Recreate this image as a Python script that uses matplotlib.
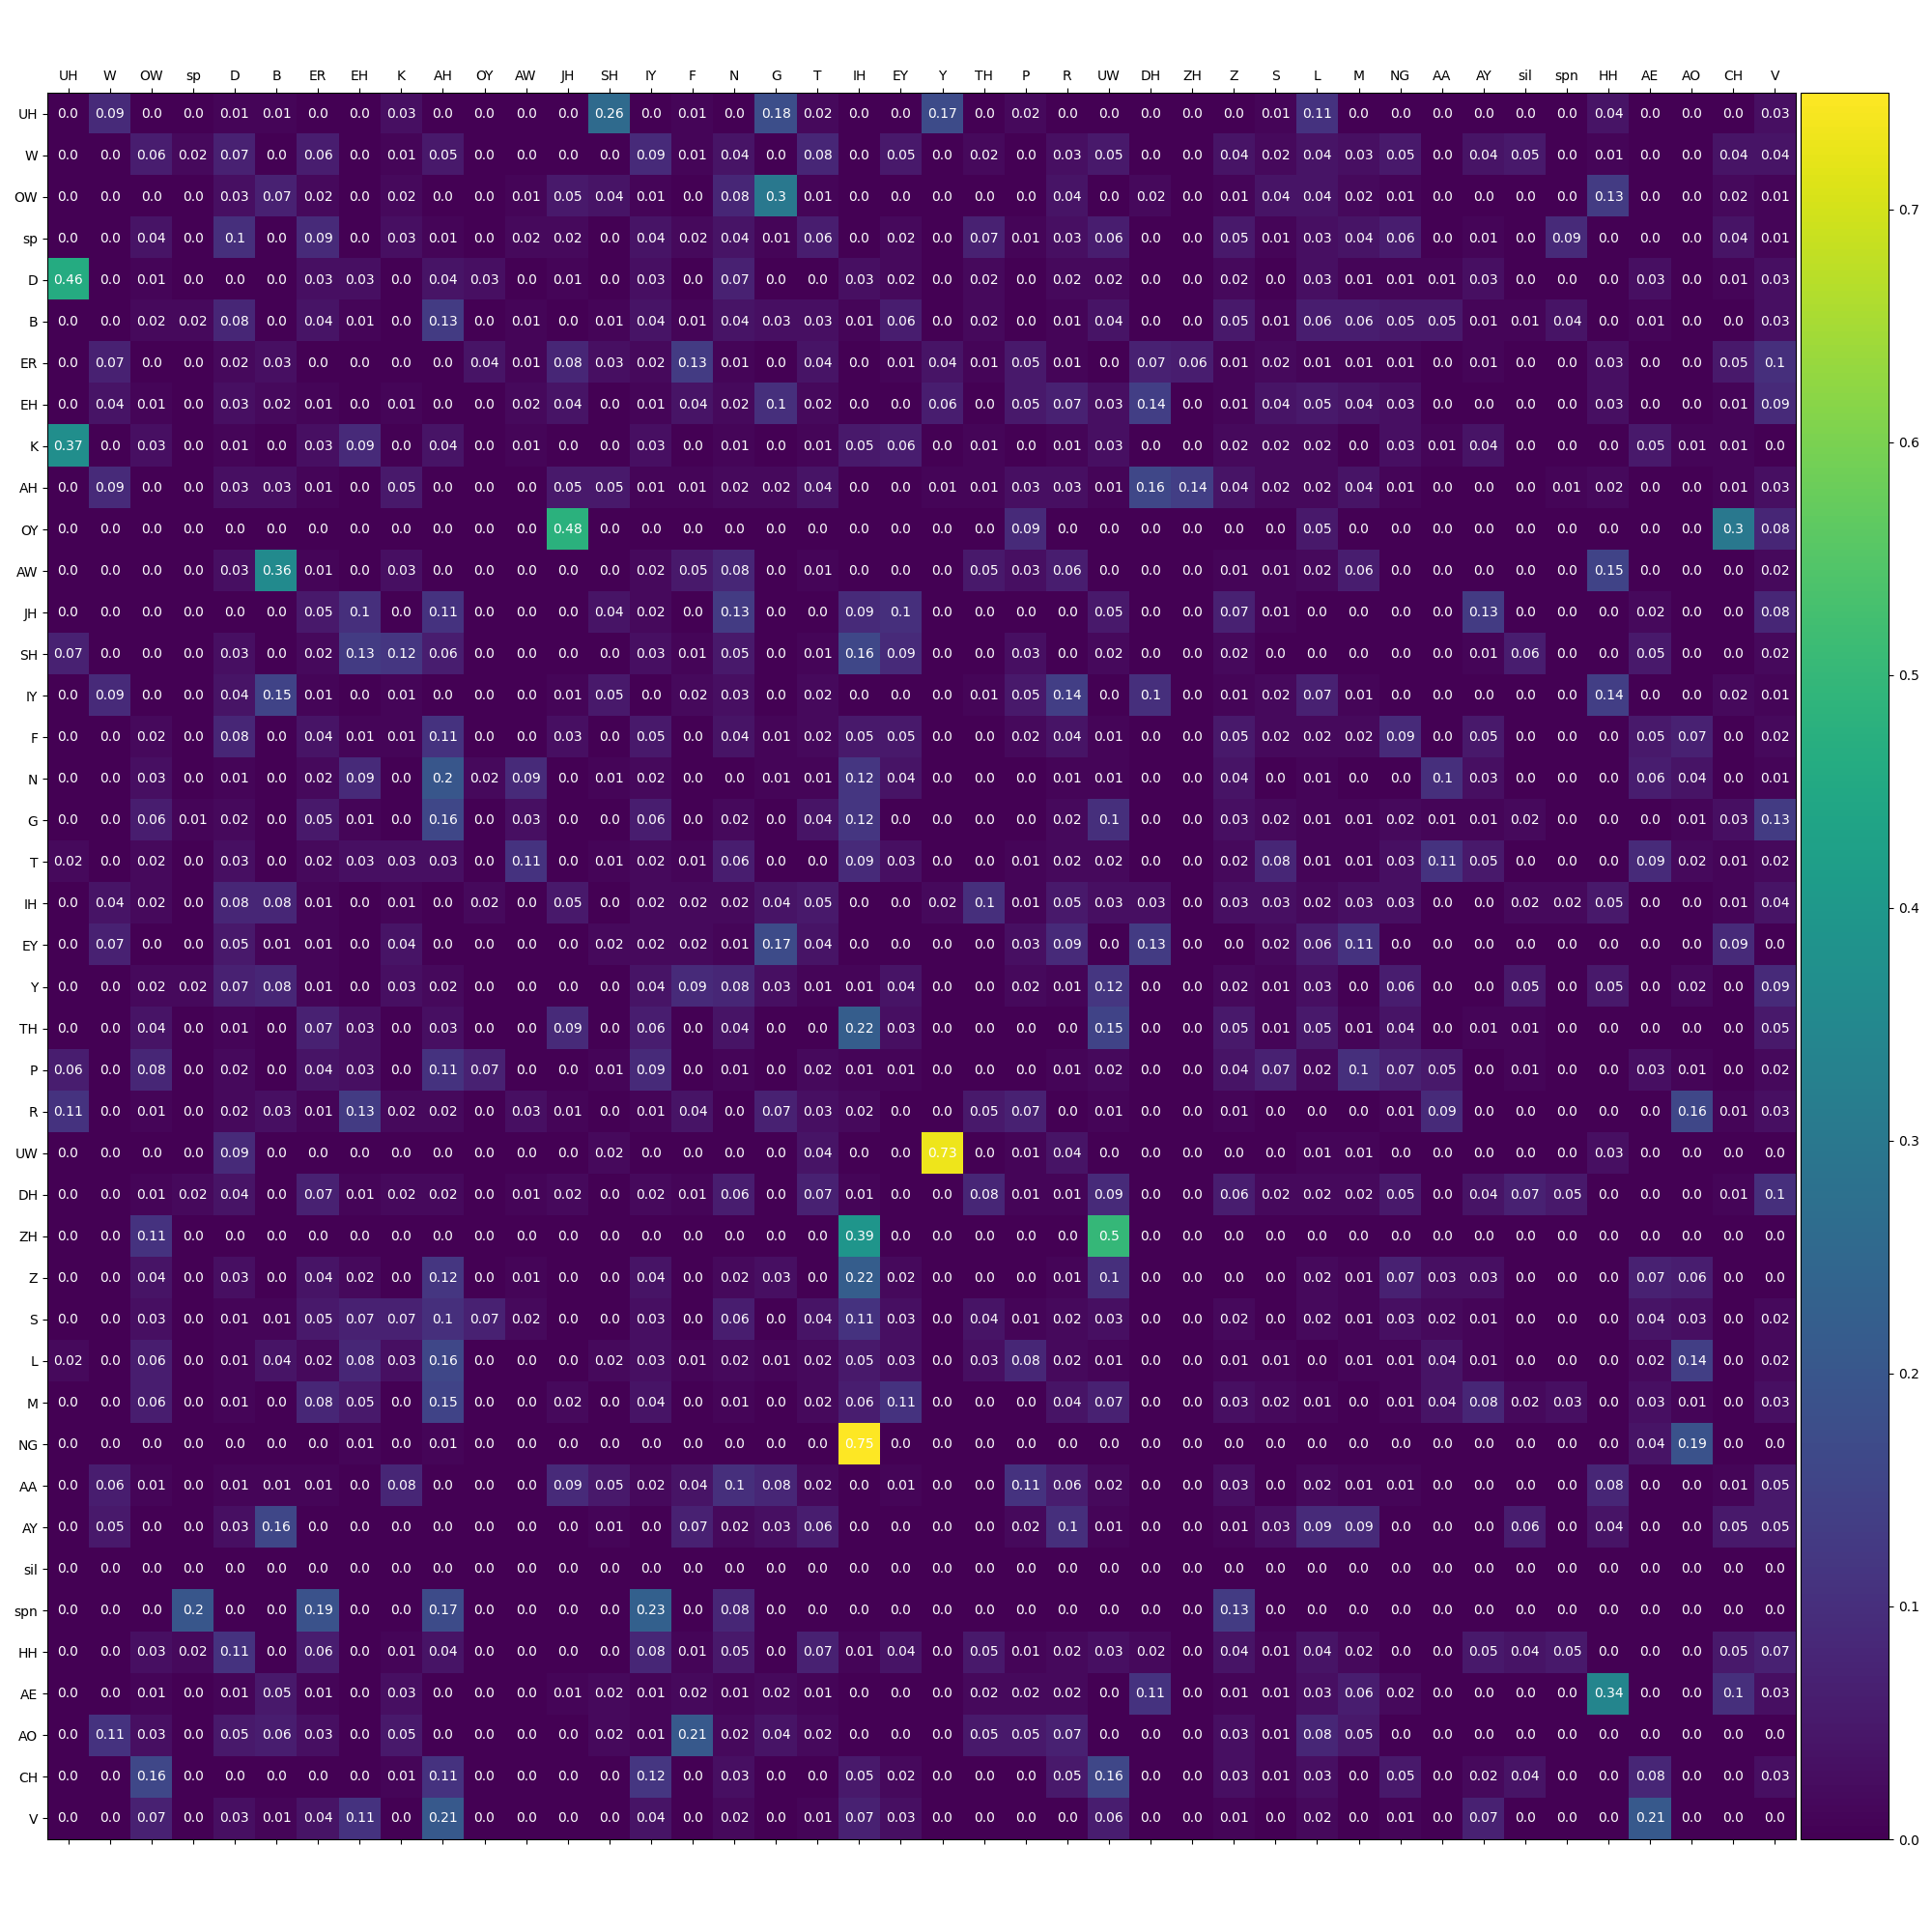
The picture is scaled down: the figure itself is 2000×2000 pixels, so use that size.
import matplotlib
matplotlib.use('Agg')
import matplotlib.pyplot as plt
import numpy as np

phones = ['UH', 'W', 'OW', 'sp', 'D', 'B', 'ER', 'EH', 'K', 'AH', 'OY', 'AW', 'JH', 'SH',
          'IY', 'F', 'N', 'G', 'T', 'IH', 'EY', 'Y', 'TH', 'P', 'R', 'UW', 'DH', 'ZH',
          'Z', 'S', 'L', 'M', 'NG', 'AA', 'AY', 'sil', 'spn', 'HH', 'AE', 'AO', 'CH', 'V']

# one list per true phone (row), columns in the same order as phones
r_UH = [0.0, 0.09, 0.0, 0.0, 0.01, 0.01, 0.0, 0.0, 0.03, 0.0, 0.0, 0.0, 0.0, 0.26,
        0.0, 0.01, 0.0, 0.18, 0.02, 0.0, 0.0, 0.17, 0.0, 0.02, 0.0, 0.0, 0.0, 0.0,
        0.0, 0.01, 0.11, 0.0, 0.0, 0.0, 0.0, 0.0, 0.0, 0.04, 0.0, 0.0, 0.0, 0.03]
r_W = [0.0, 0.0, 0.06, 0.02, 0.07, 0.0, 0.06, 0.0, 0.01, 0.05, 0.0, 0.0, 0.0, 0.0,
       0.09, 0.01, 0.04, 0.0, 0.08, 0.0, 0.05, 0.0, 0.02, 0.0, 0.03, 0.05, 0.0, 0.0,
       0.04, 0.02, 0.04, 0.03, 0.05, 0.0, 0.04, 0.05, 0.0, 0.01, 0.0, 0.0, 0.04, 0.04]
r_OW = [0.0, 0.0, 0.0, 0.0, 0.03, 0.07, 0.02, 0.0, 0.02, 0.0, 0.0, 0.01, 0.05, 0.04,
        0.01, 0.0, 0.08, 0.3, 0.01, 0.0, 0.0, 0.0, 0.0, 0.0, 0.04, 0.0, 0.02, 0.0,
        0.01, 0.04, 0.04, 0.02, 0.01, 0.0, 0.0, 0.0, 0.0, 0.13, 0.0, 0.0, 0.02, 0.01]
r_sp = [0.0, 0.0, 0.04, 0.0, 0.1, 0.0, 0.09, 0.0, 0.03, 0.01, 0.0, 0.02, 0.02, 0.0,
        0.04, 0.02, 0.04, 0.01, 0.06, 0.0, 0.02, 0.0, 0.07, 0.01, 0.03, 0.06, 0.0, 0.0,
        0.05, 0.01, 0.03, 0.04, 0.06, 0.0, 0.01, 0.0, 0.09, 0.0, 0.0, 0.0, 0.04, 0.01]
r_D = [0.46, 0.0, 0.01, 0.0, 0.0, 0.0, 0.03, 0.03, 0.0, 0.04, 0.03, 0.0, 0.01, 0.0,
       0.03, 0.0, 0.07, 0.0, 0.0, 0.03, 0.02, 0.0, 0.02, 0.0, 0.02, 0.02, 0.0, 0.0,
       0.02, 0.0, 0.03, 0.01, 0.01, 0.01, 0.03, 0.0, 0.0, 0.0, 0.03, 0.0, 0.01, 0.03]
r_B = [0.0, 0.0, 0.02, 0.02, 0.08, 0.0, 0.04, 0.01, 0.0, 0.13, 0.0, 0.01, 0.0, 0.01,
       0.04, 0.01, 0.04, 0.03, 0.03, 0.01, 0.06, 0.0, 0.02, 0.0, 0.01, 0.04, 0.0, 0.0,
       0.05, 0.01, 0.06, 0.06, 0.05, 0.05, 0.01, 0.01, 0.04, 0.0, 0.01, 0.0, 0.0, 0.03]
r_ER = [0.0, 0.07, 0.0, 0.0, 0.02, 0.03, 0.0, 0.0, 0.0, 0.0, 0.04, 0.01, 0.08, 0.03,
        0.02, 0.13, 0.01, 0.0, 0.04, 0.0, 0.01, 0.04, 0.01, 0.05, 0.01, 0.0, 0.07, 0.06,
        0.01, 0.02, 0.01, 0.01, 0.01, 0.0, 0.01, 0.0, 0.0, 0.03, 0.0, 0.0, 0.05, 0.1]
r_EH = [0.0, 0.04, 0.01, 0.0, 0.03, 0.02, 0.01, 0.0, 0.01, 0.0, 0.0, 0.02, 0.04, 0.0,
        0.01, 0.04, 0.02, 0.1, 0.02, 0.0, 0.0, 0.06, 0.0, 0.05, 0.07, 0.03, 0.14, 0.0,
        0.01, 0.04, 0.05, 0.04, 0.03, 0.0, 0.0, 0.0, 0.0, 0.03, 0.0, 0.0, 0.01, 0.09]
r_K = [0.37, 0.0, 0.03, 0.0, 0.01, 0.0, 0.03, 0.09, 0.0, 0.04, 0.0, 0.01, 0.0, 0.0,
       0.03, 0.0, 0.01, 0.0, 0.01, 0.05, 0.06, 0.0, 0.01, 0.0, 0.01, 0.03, 0.0, 0.0,
       0.02, 0.02, 0.02, 0.0, 0.03, 0.01, 0.04, 0.0, 0.0, 0.0, 0.05, 0.01, 0.01, 0.0]
r_AH = [0.0, 0.09, 0.0, 0.0, 0.03, 0.03, 0.01, 0.0, 0.05, 0.0, 0.0, 0.0, 0.05, 0.05,
        0.01, 0.01, 0.02, 0.02, 0.04, 0.0, 0.0, 0.01, 0.01, 0.03, 0.03, 0.01, 0.16, 0.14,
        0.04, 0.02, 0.02, 0.04, 0.01, 0.0, 0.0, 0.0, 0.01, 0.02, 0.0, 0.0, 0.01, 0.03]
r_OY = [0.0, 0.0, 0.0, 0.0, 0.0, 0.0, 0.0, 0.0, 0.0, 0.0, 0.0, 0.0, 0.48, 0.0,
        0.0, 0.0, 0.0, 0.0, 0.0, 0.0, 0.0, 0.0, 0.0, 0.09, 0.0, 0.0, 0.0, 0.0,
        0.0, 0.0, 0.05, 0.0, 0.0, 0.0, 0.0, 0.0, 0.0, 0.0, 0.0, 0.0, 0.3, 0.08]
r_AW = [0.0, 0.0, 0.0, 0.0, 0.03, 0.36, 0.01, 0.0, 0.03, 0.0, 0.0, 0.0, 0.0, 0.0,
        0.02, 0.05, 0.08, 0.0, 0.01, 0.0, 0.0, 0.0, 0.05, 0.03, 0.06, 0.0, 0.0, 0.0,
        0.01, 0.01, 0.02, 0.06, 0.0, 0.0, 0.0, 0.0, 0.0, 0.15, 0.0, 0.0, 0.0, 0.02]
r_JH = [0.0, 0.0, 0.0, 0.0, 0.0, 0.0, 0.05, 0.1, 0.0, 0.11, 0.0, 0.0, 0.0, 0.04,
        0.02, 0.0, 0.13, 0.0, 0.0, 0.09, 0.1, 0.0, 0.0, 0.0, 0.0, 0.05, 0.0, 0.0,
        0.07, 0.01, 0.0, 0.0, 0.0, 0.0, 0.13, 0.0, 0.0, 0.0, 0.02, 0.0, 0.0, 0.08]
r_SH = [0.07, 0.0, 0.0, 0.0, 0.03, 0.0, 0.02, 0.13, 0.12, 0.06, 0.0, 0.0, 0.0, 0.0,
        0.03, 0.01, 0.05, 0.0, 0.01, 0.16, 0.09, 0.0, 0.0, 0.03, 0.0, 0.02, 0.0, 0.0,
        0.02, 0.0, 0.0, 0.0, 0.0, 0.0, 0.01, 0.06, 0.0, 0.0, 0.05, 0.0, 0.0, 0.02]
r_IY = [0.0, 0.09, 0.0, 0.0, 0.04, 0.15, 0.01, 0.0, 0.01, 0.0, 0.0, 0.0, 0.01, 0.05,
        0.0, 0.02, 0.03, 0.0, 0.02, 0.0, 0.0, 0.0, 0.01, 0.05, 0.14, 0.0, 0.1, 0.0,
        0.01, 0.02, 0.07, 0.01, 0.0, 0.0, 0.0, 0.0, 0.0, 0.14, 0.0, 0.0, 0.02, 0.01]
r_F = [0.0, 0.0, 0.02, 0.0, 0.08, 0.0, 0.04, 0.01, 0.01, 0.11, 0.0, 0.0, 0.03, 0.0,
       0.05, 0.0, 0.04, 0.01, 0.02, 0.05, 0.05, 0.0, 0.0, 0.02, 0.04, 0.01, 0.0, 0.0,
       0.05, 0.02, 0.02, 0.02, 0.09, 0.0, 0.05, 0.0, 0.0, 0.0, 0.05, 0.07, 0.0, 0.02]
r_N = [0.0, 0.0, 0.03, 0.0, 0.01, 0.0, 0.02, 0.09, 0.0, 0.2, 0.02, 0.09, 0.0, 0.01,
       0.02, 0.0, 0.0, 0.01, 0.01, 0.12, 0.04, 0.0, 0.0, 0.0, 0.01, 0.01, 0.0, 0.0,
       0.04, 0.0, 0.01, 0.0, 0.0, 0.1, 0.03, 0.0, 0.0, 0.0, 0.06, 0.04, 0.0, 0.01]
r_G = [0.0, 0.0, 0.06, 0.01, 0.02, 0.0, 0.05, 0.01, 0.0, 0.16, 0.0, 0.03, 0.0, 0.0,
       0.06, 0.0, 0.02, 0.0, 0.04, 0.12, 0.0, 0.0, 0.0, 0.0, 0.02, 0.1, 0.0, 0.0,
       0.03, 0.02, 0.01, 0.01, 0.02, 0.01, 0.01, 0.02, 0.0, 0.0, 0.0, 0.01, 0.03, 0.13]
r_T = [0.02, 0.0, 0.02, 0.0, 0.03, 0.0, 0.02, 0.03, 0.03, 0.03, 0.0, 0.11, 0.0, 0.01,
       0.02, 0.01, 0.06, 0.0, 0.0, 0.09, 0.03, 0.0, 0.0, 0.01, 0.02, 0.02, 0.0, 0.0,
       0.02, 0.08, 0.01, 0.01, 0.03, 0.11, 0.05, 0.0, 0.0, 0.0, 0.09, 0.02, 0.01, 0.02]
r_IH = [0.0, 0.04, 0.02, 0.0, 0.08, 0.08, 0.01, 0.0, 0.01, 0.0, 0.02, 0.0, 0.05, 0.0,
        0.02, 0.02, 0.02, 0.04, 0.05, 0.0, 0.0, 0.02, 0.1, 0.01, 0.05, 0.03, 0.03, 0.0,
        0.03, 0.03, 0.02, 0.03, 0.03, 0.0, 0.0, 0.02, 0.02, 0.05, 0.0, 0.0, 0.01, 0.04]
r_EY = [0.0, 0.07, 0.0, 0.0, 0.05, 0.01, 0.01, 0.0, 0.04, 0.0, 0.0, 0.0, 0.0, 0.02,
        0.02, 0.02, 0.01, 0.17, 0.04, 0.0, 0.0, 0.0, 0.0, 0.03, 0.09, 0.0, 0.13, 0.0,
        0.0, 0.02, 0.06, 0.11, 0.0, 0.0, 0.0, 0.0, 0.0, 0.0, 0.0, 0.0, 0.09, 0.0]
r_Y = [0.0, 0.0, 0.02, 0.02, 0.07, 0.08, 0.01, 0.0, 0.03, 0.02, 0.0, 0.0, 0.0, 0.0,
       0.04, 0.09, 0.08, 0.03, 0.01, 0.01, 0.04, 0.0, 0.0, 0.02, 0.01, 0.12, 0.0, 0.0,
       0.02, 0.01, 0.03, 0.0, 0.06, 0.0, 0.0, 0.05, 0.0, 0.05, 0.0, 0.02, 0.0, 0.09]
r_TH = [0.0, 0.0, 0.04, 0.0, 0.01, 0.0, 0.07, 0.03, 0.0, 0.03, 0.0, 0.0, 0.09, 0.0,
        0.06, 0.0, 0.04, 0.0, 0.0, 0.22, 0.03, 0.0, 0.0, 0.0, 0.0, 0.15, 0.0, 0.0,
        0.05, 0.01, 0.05, 0.01, 0.04, 0.0, 0.01, 0.01, 0.0, 0.0, 0.0, 0.0, 0.0, 0.05]
r_P = [0.06, 0.0, 0.08, 0.0, 0.02, 0.0, 0.04, 0.03, 0.0, 0.11, 0.07, 0.0, 0.0, 0.01,
       0.09, 0.0, 0.01, 0.0, 0.02, 0.01, 0.01, 0.0, 0.0, 0.0, 0.01, 0.02, 0.0, 0.0,
       0.04, 0.07, 0.02, 0.1, 0.07, 0.05, 0.0, 0.01, 0.0, 0.0, 0.03, 0.01, 0.0, 0.02]
r_R = [0.11, 0.0, 0.01, 0.0, 0.02, 0.03, 0.01, 0.13, 0.02, 0.02, 0.0, 0.03, 0.01, 0.0,
       0.01, 0.04, 0.0, 0.07, 0.03, 0.02, 0.0, 0.0, 0.05, 0.07, 0.0, 0.01, 0.0, 0.0,
       0.01, 0.0, 0.0, 0.0, 0.01, 0.09, 0.0, 0.0, 0.0, 0.0, 0.0, 0.16, 0.01, 0.03]
r_UW = [0.0, 0.0, 0.0, 0.0, 0.09, 0.0, 0.0, 0.0, 0.0, 0.0, 0.0, 0.0, 0.0, 0.02,
        0.0, 0.0, 0.0, 0.0, 0.04, 0.0, 0.0, 0.73, 0.0, 0.01, 0.04, 0.0, 0.0, 0.0,
        0.0, 0.0, 0.01, 0.01, 0.0, 0.0, 0.0, 0.0, 0.0, 0.03, 0.0, 0.0, 0.0, 0.0]
r_DH = [0.0, 0.0, 0.01, 0.02, 0.04, 0.0, 0.07, 0.01, 0.02, 0.02, 0.0, 0.01, 0.02, 0.0,
        0.02, 0.01, 0.06, 0.0, 0.07, 0.01, 0.0, 0.0, 0.08, 0.01, 0.01, 0.09, 0.0, 0.0,
        0.06, 0.02, 0.02, 0.02, 0.05, 0.0, 0.04, 0.07, 0.05, 0.0, 0.0, 0.0, 0.01, 0.1]
r_ZH = [0.0, 0.0, 0.11, 0.0, 0.0, 0.0, 0.0, 0.0, 0.0, 0.0, 0.0, 0.0, 0.0, 0.0,
        0.0, 0.0, 0.0, 0.0, 0.0, 0.39, 0.0, 0.0, 0.0, 0.0, 0.0, 0.5, 0.0, 0.0,
        0.0, 0.0, 0.0, 0.0, 0.0, 0.0, 0.0, 0.0, 0.0, 0.0, 0.0, 0.0, 0.0, 0.0]
r_Z = [0.0, 0.0, 0.04, 0.0, 0.03, 0.0, 0.04, 0.02, 0.0, 0.12, 0.0, 0.01, 0.0, 0.0,
       0.04, 0.0, 0.02, 0.03, 0.0, 0.22, 0.02, 0.0, 0.0, 0.0, 0.01, 0.1, 0.0, 0.0,
       0.0, 0.0, 0.02, 0.01, 0.07, 0.03, 0.03, 0.0, 0.0, 0.0, 0.07, 0.06, 0.0, 0.0]
r_S = [0.0, 0.0, 0.03, 0.0, 0.01, 0.01, 0.05, 0.07, 0.07, 0.1, 0.07, 0.02, 0.0, 0.0,
       0.03, 0.0, 0.06, 0.0, 0.04, 0.11, 0.03, 0.0, 0.04, 0.01, 0.02, 0.03, 0.0, 0.0,
       0.02, 0.0, 0.02, 0.01, 0.03, 0.02, 0.01, 0.0, 0.0, 0.0, 0.04, 0.03, 0.0, 0.02]
r_L = [0.02, 0.0, 0.06, 0.0, 0.01, 0.04, 0.02, 0.08, 0.03, 0.16, 0.0, 0.0, 0.0, 0.02,
       0.03, 0.01, 0.02, 0.01, 0.02, 0.05, 0.03, 0.0, 0.03, 0.08, 0.02, 0.01, 0.0, 0.0,
       0.01, 0.01, 0.0, 0.01, 0.01, 0.04, 0.01, 0.0, 0.0, 0.0, 0.02, 0.14, 0.0, 0.02]
r_M = [0.0, 0.0, 0.06, 0.0, 0.01, 0.0, 0.08, 0.05, 0.0, 0.15, 0.0, 0.0, 0.02, 0.0,
       0.04, 0.0, 0.01, 0.0, 0.02, 0.06, 0.11, 0.0, 0.0, 0.0, 0.04, 0.07, 0.0, 0.0,
       0.03, 0.02, 0.01, 0.0, 0.01, 0.04, 0.08, 0.02, 0.03, 0.0, 0.03, 0.01, 0.0, 0.03]
r_NG = [0.0, 0.0, 0.0, 0.0, 0.0, 0.0, 0.0, 0.01, 0.0, 0.01, 0.0, 0.0, 0.0, 0.0,
        0.0, 0.0, 0.0, 0.0, 0.0, 0.75, 0.0, 0.0, 0.0, 0.0, 0.0, 0.0, 0.0, 0.0,
        0.0, 0.0, 0.0, 0.0, 0.0, 0.0, 0.0, 0.0, 0.0, 0.0, 0.04, 0.19, 0.0, 0.0]
r_AA = [0.0, 0.06, 0.01, 0.0, 0.01, 0.01, 0.01, 0.0, 0.08, 0.0, 0.0, 0.0, 0.09, 0.05,
        0.02, 0.04, 0.1, 0.08, 0.02, 0.0, 0.01, 0.0, 0.0, 0.11, 0.06, 0.02, 0.0, 0.0,
        0.03, 0.0, 0.02, 0.01, 0.01, 0.0, 0.0, 0.0, 0.0, 0.08, 0.0, 0.0, 0.01, 0.05]
r_AY = [0.0, 0.05, 0.0, 0.0, 0.03, 0.16, 0.0, 0.0, 0.0, 0.0, 0.0, 0.0, 0.0, 0.01,
        0.0, 0.07, 0.02, 0.03, 0.06, 0.0, 0.0, 0.0, 0.0, 0.02, 0.1, 0.01, 0.0, 0.0,
        0.01, 0.03, 0.09, 0.09, 0.0, 0.0, 0.0, 0.06, 0.0, 0.04, 0.0, 0.0, 0.05, 0.05]
r_sil = [0.0] * 42
r_spn = [0.0, 0.0, 0.0, 0.2, 0.0, 0.0, 0.19, 0.0, 0.0, 0.17, 0.0, 0.0, 0.0, 0.0,
         0.23, 0.0, 0.08, 0.0, 0.0, 0.0, 0.0, 0.0, 0.0, 0.0, 0.0, 0.0, 0.0, 0.0,
         0.13, 0.0, 0.0, 0.0, 0.0, 0.0, 0.0, 0.0, 0.0, 0.0, 0.0, 0.0, 0.0, 0.0]
r_HH = [0.0, 0.0, 0.03, 0.02, 0.11, 0.0, 0.06, 0.0, 0.01, 0.04, 0.0, 0.0, 0.0, 0.0,
        0.08, 0.01, 0.05, 0.0, 0.07, 0.01, 0.04, 0.0, 0.05, 0.01, 0.02, 0.03, 0.02, 0.0,
        0.04, 0.01, 0.04, 0.02, 0.0, 0.0, 0.05, 0.04, 0.05, 0.0, 0.0, 0.0, 0.05, 0.07]
r_AE = [0.0, 0.0, 0.01, 0.0, 0.01, 0.05, 0.01, 0.0, 0.03, 0.0, 0.0, 0.0, 0.01, 0.02,
        0.01, 0.02, 0.01, 0.02, 0.01, 0.0, 0.0, 0.0, 0.02, 0.02, 0.02, 0.0, 0.11, 0.0,
        0.01, 0.01, 0.03, 0.06, 0.02, 0.0, 0.0, 0.0, 0.0, 0.34, 0.0, 0.0, 0.1, 0.03]
r_AO = [0.0, 0.11, 0.03, 0.0, 0.05, 0.06, 0.03, 0.0, 0.05, 0.0, 0.0, 0.0, 0.0, 0.02,
        0.01, 0.21, 0.02, 0.04, 0.02, 0.0, 0.0, 0.0, 0.05, 0.05, 0.07, 0.0, 0.0, 0.0,
        0.03, 0.01, 0.08, 0.05, 0.0, 0.0, 0.0, 0.0, 0.0, 0.0, 0.0, 0.0, 0.0, 0.0]
r_CH = [0.0, 0.0, 0.16, 0.0, 0.0, 0.0, 0.0, 0.0, 0.01, 0.11, 0.0, 0.0, 0.0, 0.0,
        0.12, 0.0, 0.03, 0.0, 0.0, 0.05, 0.02, 0.0, 0.0, 0.0, 0.05, 0.16, 0.0, 0.0,
        0.03, 0.01, 0.03, 0.0, 0.05, 0.0, 0.02, 0.04, 0.0, 0.0, 0.08, 0.0, 0.0, 0.03]
r_V = [0.0, 0.0, 0.07, 0.0, 0.03, 0.01, 0.04, 0.11, 0.0, 0.21, 0.0, 0.0, 0.0, 0.0,
       0.04, 0.0, 0.02, 0.0, 0.01, 0.07, 0.03, 0.0, 0.0, 0.0, 0.0, 0.06, 0.0, 0.0,
       0.01, 0.0, 0.02, 0.0, 0.01, 0.0, 0.07, 0.0, 0.0, 0.0, 0.21, 0.0, 0.0, 0.0]

rows = [r_UH, r_W, r_OW, r_sp, r_D, r_B, r_ER, r_EH, r_K, r_AH, r_OY, r_AW, r_JH, r_SH,
        r_IY, r_F, r_N, r_G, r_T, r_IH, r_EY, r_Y, r_TH, r_P, r_R, r_UW, r_DH, r_ZH,
        r_Z, r_S, r_L, r_M, r_NG, r_AA, r_AY, r_sil, r_spn, r_HH, r_AE, r_AO, r_CH, r_V]
conf = np.array(rows, dtype=float)

fig = plt.figure(figsize=(20, 20), dpi=100)
ax = fig.add_axes([0.0245, 0.048, 0.905, 0.904])
cax = fig.add_axes([0.932, 0.048, 0.0455, 0.904])

im = ax.imshow(conf, cmap='viridis', aspect='auto')
fig.colorbar(im, cax=cax)

n = len(phones)
ax.set_xticks(np.arange(n))
ax.set_yticks(np.arange(n))
ax.set_xticklabels(phones)
ax.set_yticklabels(phones)
ax.tick_params(top=True, labeltop=True, bottom=True, labelbottom=False)

for i in range(n):
    for j in range(n):
        ax.text(j, i, str(conf[i, j]), ha='center', va='center', color='w')

fig.savefig('out.png', dpi=100)
